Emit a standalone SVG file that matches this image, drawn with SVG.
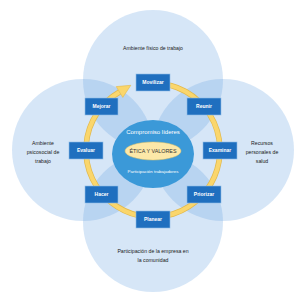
<svg xmlns="http://www.w3.org/2000/svg" width="300" height="300" viewBox="0 0 300 300">
<style>
.area{fill:#67a2e1;fill-opacity:0.27}
.lbl{font-family:"Liberation Sans",Arial,sans-serif;font-size:5.2px;fill:#222;text-anchor:middle}
.box rect{fill:#1f6fbf;stroke:#8fbde8;stroke-width:0.6}
.box text{font-family:"Liberation Sans",Arial,sans-serif;font-size:5px;font-weight:bold;fill:#fff;text-anchor:middle}
.ctr{font-family:"Liberation Sans",Arial,sans-serif;text-anchor:middle}
</style>
<rect width="300" height="300" fill="#fff"/>
<g id="circles">
<circle class="area" cx="153" cy="80" r="70"/>
<circle class="area" cx="83" cy="150" r="71"/>
<circle class="area" cx="223" cy="150" r="71"/>
<circle class="area" cx="153" cy="222" r="70"/>
</g>
<g id="area-labels">
<text class="lbl" x="153" y="50">Ambiente físico de trabajo</text>
<text class="lbl" x="43" y="145">Ambiente</text>
<text class="lbl" x="43" y="154">psicosocial de</text>
<text class="lbl" x="43" y="163">trabajo</text>
<text class="lbl" x="262" y="145">Recursos</text>
<text class="lbl" x="262" y="154">personales  de</text>
<text class="lbl" x="262" y="163">salud</text>
<text class="lbl" x="153" y="253">Participación de la empresa en</text>
<text class="lbl" x="153" y="262">la comunidad</text>
</g>
<g id="connectors">
<path d="M147.2 83.3 A67 67 0 1 1 119.5 92.0" fill="none" stroke="#e2b94c" stroke-width="5.6"/>
<path d="M147.2 83.3 A67 67 0 1 1 119.5 92.0" fill="none" stroke="#fad66c" stroke-width="4.2"/>
<polygon points="116.2,86.6 130.8,85.3 122.8,97.4" fill="#fad66c" stroke="#e2b94c" stroke-width="0.6" stroke-linejoin="round"/>
</g>
<g id="center">
<ellipse cx="153" cy="154" rx="41" ry="34" fill="#3b99d8"/>
<text class="ctr" x="153" y="134" font-size="6px" fill="#fff">Compromiso líderes</text>
<ellipse cx="153" cy="151" rx="28" ry="9" fill="#fce8a8" stroke="#e6c766" stroke-width="0.5"/>
<text class="ctr" x="153" y="153" font-size="5.4px" fill="#333">ÉTICA Y VALORES</text>
<text class="ctr" x="153" y="173" font-size="4.4px" fill="#fff">Participación trabajadores</text>
</g>
<g id="movilizar" class="box"><rect x="136" y="74" width="34" height="17"/><text x="153" y="84.3">Movilizar</text></g>
<g id="reunir" class="box"><rect x="187" y="98" width="34" height="17"/><text x="204" y="108.3">Reunir</text></g>
<g id="examinar" class="box"><rect x="203" y="142" width="34" height="17"/><text x="220" y="152.3">Examinar</text></g>
<g id="priorizar" class="box"><rect x="187" y="186" width="34" height="17"/><text x="204" y="196.3">Priorizar</text></g>
<g id="planear" class="box"><rect x="136" y="211" width="34" height="17"/><text x="153" y="221.3">Planear</text></g>
<g id="hacer" class="box"><rect x="85" y="186" width="33" height="17"/><text x="101.5" y="196.3">Hacer</text></g>
<g id="evaluar" class="box"><rect x="69" y="142" width="34" height="17"/><text x="86" y="152.3">Evaluar</text></g>
<g id="mejorar" class="box"><rect x="85" y="98" width="33" height="17"/><text x="101.5" y="108.3">Mejorar</text></g>
</svg>
